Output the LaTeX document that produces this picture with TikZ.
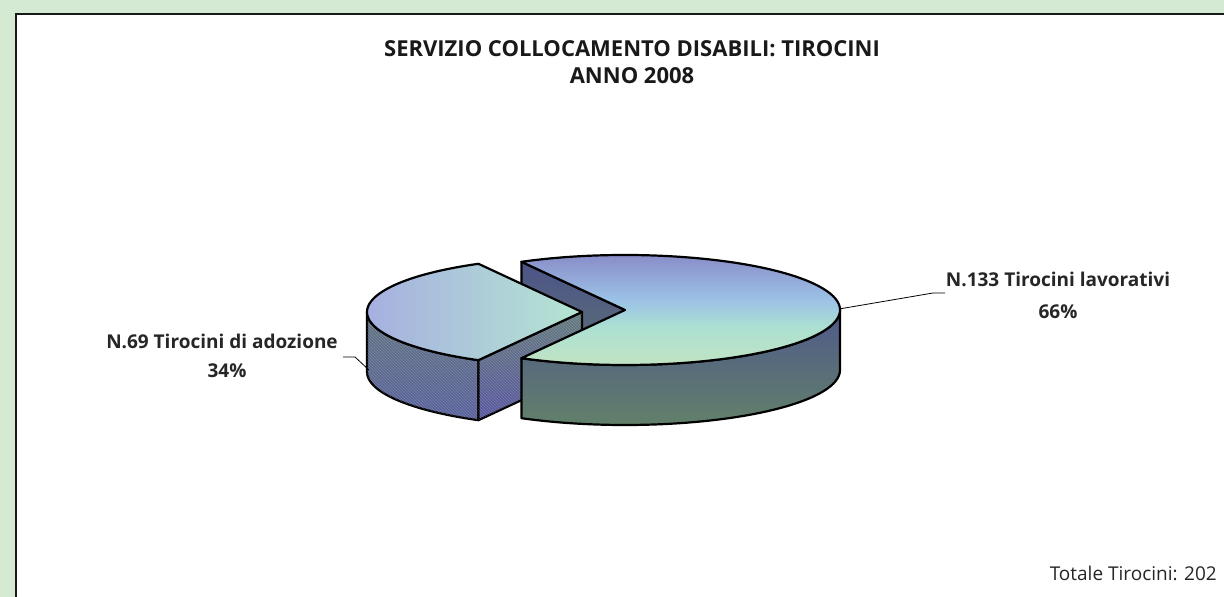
\documentclass[tikz,border=0pt]{standalone}
\usepackage{fontspec}
\setmainfont{Open Sans}
\usetikzlibrary{patterns,calc}
\definecolor{bgG}{HTML}{D5EAD3}
\definecolor{tG}{HTML}{C2E4C2}
\definecolor{tM}{HTML}{ACE0D2}
\definecolor{tB}{HTML}{9CC2E6}
\definecolor{tP}{HTML}{8684C4}
\pgfdeclareverticalshading{topface}{100bp}{color(0bp)=(tG); color(25bp)=(tG); color(42bp)=(tM); color(53bp)=(tB); color(75bp)=(tP); color(100bp)=(tP)}
\tikzset{
  edge/.style={draw=black, line width=2.2pt, line join=round},
  leader/.style={draw=black, line width=0.8pt},
  ttl/.style={font=\fontsize{22}{26}\selectfont\bfseries, text=black!90, anchor=base, inner sep=0pt},
  lbl/.style={font=\fontsize{19}{23}\selectfont\bfseries, text=black!85, anchor=base, inner sep=0pt},
  hatch/.style={pattern=north west lines, pattern color=white, opacity=0.18},
}
\begin{document}
\begin{tikzpicture}[x=1pt,y=1pt]
\useasboundingbox (0,0) rectangle (1224,597);
\fill[bgG] (0,0) rectangle (1224,597);
\draw[line width=2.2pt, draw=black!90, fill=white] (16,583) rectangle (1250,-30);

% titles
\node[ttl] (t1) at (632,540) {SERVIZIO COLLOCAMENTO DISABILI: TIROCINI};
\node[ttl] (t2) at (632,513) {ANNO 2008};

\coordinate (Lc) at (625,287);
\coordinate (Sc) at (582,285);

% large slice: back cut wall
\path[edge, top color={rgb,255:red,76;green,84;blue,136}, bottom color={rgb,255:red,94;green,116;blue,114}]
  (Lc) -- ++(0,-60) -- ++(118.8:215pt and 55pt) -- ++(0,60) -- cycle;

% small slice
\path[edge, top color={rgb,255:red,98;green,116;blue,128}, bottom color={rgb,255:red,88;green,96;blue,156}]
  ($(Sc)+(180:215pt and 55pt)$) arc[start angle=180, end angle=241.2, x radius=215pt, y radius=55pt]
  -- ++(0,-60) arc[start angle=241.2, end angle=180, x radius=215pt, y radius=55pt] -- cycle;
\fill[hatch]
  ($(Sc)+(180:215pt and 55pt)$) arc[start angle=180, end angle=241.2, x radius=215pt, y radius=55pt]
  -- ++(0,-60) arc[start angle=241.2, end angle=180, x radius=215pt, y radius=55pt] -- cycle;
\path[edge, top color={rgb,255:red,100;green,122;blue,124}, bottom color={rgb,255:red,88;green,86;blue,160}]
  (Sc) -- ++(0,-60) -- ++(241.2:215pt and 55pt) -- ++(0,60) -- cycle;
\fill[hatch] (Sc) -- ++(0,-60) -- ++(241.2:215pt and 55pt) -- ++(0,60) -- cycle;
\path[edge, left color={rgb,255:red,164;green,168;blue,226}, middle color={rgb,255:red,166;green,200;blue,232}, right color={rgb,255:red,180;green,230;blue,210}]
  (Sc) -- ++(118.8:215pt and 55pt) arc[start angle=118.8, end angle=241.2, x radius=215pt, y radius=55pt] -- cycle;

% large slice: front wall and top
\path[edge, top color={rgb,255:red,79;green,89;blue,138}, bottom color={rgb,255:red,98;green,128;blue,106}]
  ($(Lc)+(241.2:215pt and 55pt)$) arc[start angle=241.2, end angle=360, x radius=215pt, y radius=55pt]
  -- ++(0,-60) arc[start angle=360, end angle=241.2, x radius=215pt, y radius=55pt] -- cycle;
\path[edge, shading=topface]
  (Lc) -- ++(118.8:215pt and 55pt) arc[start angle=118.8, end angle=-118.8, x radius=215pt, y radius=55pt] -- cycle;

% labels
\node[lbl] (r1) at (1058,310) {N.133 Tirocini lavorativi};
\node[lbl] (r2) at (1058,278) {66\%};
\node[lbl] (l1) at (222,248) {N.69 Tirocini di adozione};
\node[lbl] (l2) at (227,219) {34\%};
\node[font=\fontsize{19}{23}\selectfont, text=black!85, anchor=base east, inner sep=0pt] (tot) at (1217,16) {Totale Tirocini: 202};

% leaders
\coordinate (pr) at (839,288);
\coordinate (rb) at (933,304);
\coordinate (re) at (945,304);
\draw[leader] (pr) -- (rb) -- (re);
\coordinate (ls) at (343,240);
\coordinate (lb) at (355,240);
\coordinate (le) at (369,227);
\draw[leader] (ls) -- (lb) -- (le);
\end{tikzpicture}
\end{document}
